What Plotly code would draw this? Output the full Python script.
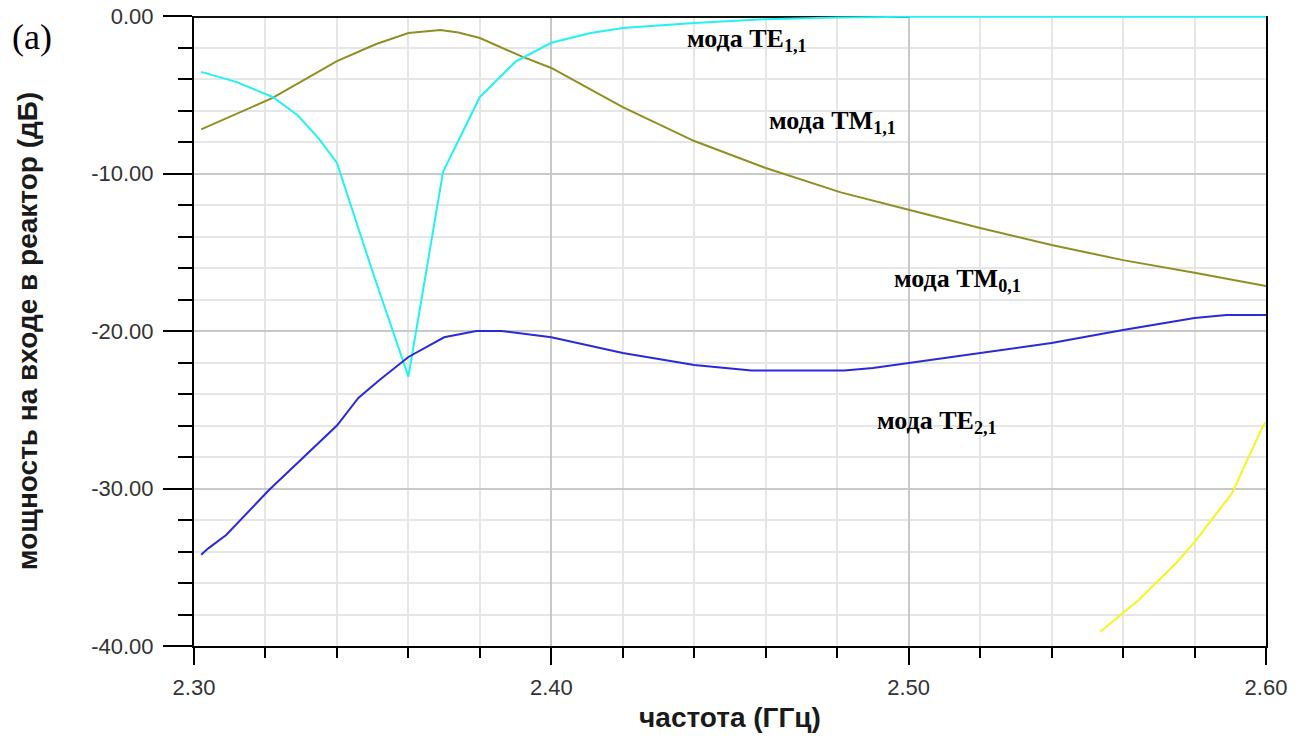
import plotly.graph_objects as go

# ---- data ----
cyan_x = [2.302, 2.312, 2.322, 2.329, 2.335, 2.340, 2.350, 2.360, 2.3697, 2.380, 2.390, 2.400, 2.411, 2.420, 2.440, 2.460, 2.480, 2.500, 2.600]
cyan_y = [-3.55, -4.2, -5.14, -6.3, -7.8, -9.33, -16.25, -22.9, -9.9, -5.14, -2.9, -1.7, -1.08, -0.76, -0.44, -0.2, -0.1, -0.05, -0.05]

olive_x = [2.302, 2.322, 2.340, 2.351, 2.360, 2.369, 2.374, 2.380, 2.392, 2.400, 2.420, 2.440, 2.460, 2.481, 2.500, 2.520, 2.540, 2.560, 2.580, 2.600]
olive_y = [-7.2, -5.2, -2.86, -1.78, -1.08, -0.89, -1.05, -1.4, -2.6, -3.3, -5.78, -7.94, -9.65, -11.2, -12.3, -13.46, -14.54, -15.5, -16.3, -17.14]

blue_x = [2.302, 2.304, 2.309, 2.321, 2.340, 2.346, 2.352, 2.360, 2.370, 2.379, 2.386, 2.400, 2.420, 2.440, 2.456, 2.482, 2.490, 2.500, 2.520, 2.540, 2.560, 2.580, 2.589, 2.600]
blue_y = [-34.2, -33.8, -32.95, -30.1, -26.0, -24.25, -23.1, -21.65, -20.4, -20.0, -20.0, -20.4, -21.4, -22.16, -22.5, -22.5, -22.35, -22.03, -21.4, -20.76, -19.94, -19.17, -18.98, -18.98]

yellow_x = [2.5536, 2.560, 2.5643, 2.575, 2.580, 2.5905, 2.5992, 2.600]
yellow_y = [-39.1, -37.9, -37.1, -34.7, -33.4, -30.3, -26.0, -25.8]

black_x = [2.300, 2.500]
black_y = [0.0, 0.0]

x_tickvals = [2.30, 2.40, 2.50, 2.60]
x_ticktext = ["2.30", "2.40", "2.50", "2.60"]
y_tickvals = [0, -10, -20, -30, -40]
y_ticktext = ["0.00", "-10.00", "-20.00", "-30.00", "-40.00"]

labels = ["мода TE<sub>1,1</sub>", "мода TM<sub>1,1</sub>", "мода TM<sub>0,1</sub>", "мода TE<sub>2,1</sub>"]
label_x = [2.4374, 2.4604, 2.4954, 2.4906]
label_y = [-1.52, -6.73, -16.76, -25.78]

x_title = "частота (ГГц)"
y_title = "мощность на входе в реактор (дБ)"

fig = go.Figure()
fig.add_trace(go.Scatter(x=black_x, y=black_y, mode="lines", line=dict(color="#111111", width=4), showlegend=False))
fig.add_trace(go.Scatter(x=olive_x, y=olive_y, mode="lines", line=dict(color="#8f8f24", width=2), showlegend=False))
fig.add_trace(go.Scatter(x=cyan_x, y=cyan_y, mode="lines", line=dict(color="#22f2f2", width=2), showlegend=False))
fig.add_trace(go.Scatter(x=blue_x, y=blue_y, mode="lines", line=dict(color="#2a2ad8", width=2), showlegend=False))
fig.add_trace(go.Scatter(x=yellow_x, y=yellow_y, mode="lines", line=dict(color="#f5f520", width=2), showlegend=False))

for t, lx, ly in zip(labels, label_x, label_y):
    fig.add_annotation(x=lx, y=ly, xref="x", yref="y", text=t, showarrow=False,
                       xanchor="left", yanchor="middle",
                       font=dict(family="Liberation Serif, Times New Roman, serif", size=26, color="black", weight="bold"))

fig.add_annotation(x=-0.1716, y=0.9667, xref="paper", yref="paper", text="(a)", showarrow=False,
                   xanchor="left", yanchor="middle",
                   font=dict(family="Liberation Serif, Times New Roman, serif", size=36, color="black"))

tickfont = dict(family="Liberation Sans, Arial, sans-serif", size=22, color="#333333")

fig.update_xaxes(range=[2.30, 2.60], tickmode="array", tickvals=x_tickvals, ticktext=x_ticktext,
                 ticks="outside", ticklen=17, tickwidth=2, tickcolor="black",
                 showline=True, linecolor="black", linewidth=2,
                 showgrid=True, gridcolor="#c9c9c9", gridwidth=1.5, zeroline=False,
                 minor=dict(tick0=2.30, dtick=0.02, ticks="outside", ticklen=10, tickwidth=2, tickcolor="black",
                            showgrid=True, gridcolor="#e6e6e6", gridwidth=1.5),
                 tickfont=tickfont, ticklabelstandoff=4, automargin=False, ticklabeloverflow="allow",
                 title=dict(text=x_title, standoff=8,
                            font=dict(family="Liberation Sans, Arial, sans-serif", size=28, color="#1a1a1a", weight="bold")))
fig.update_yaxes(range=[-40, 0], tickmode="array", tickvals=y_tickvals, ticktext=y_ticktext,
                 ticks="outside", ticklen=29, tickwidth=2, tickcolor="black",
                 showline=True, linecolor="black", linewidth=2, mirror=True,
                 showgrid=True, gridcolor="#c9c9c9", gridwidth=1.5, zeroline=False,
                 minor=dict(tick0=0, dtick=2, ticks="outside", ticklen=14, tickwidth=2, tickcolor="black",
                            showgrid=True, gridcolor="#e6e6e6", gridwidth=1.5),
                 tickfont=tickfont, ticklabelstandoff=5, automargin=False, ticklabeloverflow="allow",
                 title=dict(text=y_title, standoff=45,
                            font=dict(family="Liberation Sans, Arial, sans-serif", size=28, color="#1a1a1a", weight="bold")))

# page body adds an 8px offset, so the figure is 8px smaller on each side
fig.update_layout(width=1306, height=736, autosize=False,
                  margin=dict(l=186, r=48, t=8, b=98),
                  paper_bgcolor="white", plot_bgcolor="white")

fig.write_html("out.html")
